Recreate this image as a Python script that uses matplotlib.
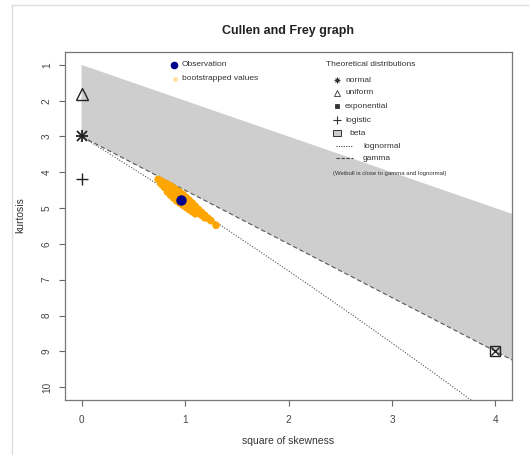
import numpy as np
import matplotlib
matplotlib.use("Agg")
import matplotlib.pyplot as plt
from matplotlib.lines import Line2D
from matplotlib.patches import Polygon, Rectangle

plt.rcParams["font.family"] = ["Liberation Sans", "DejaVu Sans"]

# observed sample statistics
obs_skew2 = 0.96
obs_kurt = 4.77

# bootstrapped (square of skewness, kurtosis) pairs
boot_skew2 = [0.74, 0.77, 0.77, 0.80, 0.80, 0.83, 0.83, 0.83, 0.86, 0.86, 0.86,
              0.89, 0.89, 0.89, 0.92, 0.92, 0.92, 0.95, 0.95, 0.95, 0.98, 0.98, 0.98,
              1.01, 1.01, 1.01, 1.04, 1.04, 1.04, 1.07, 1.07, 1.07, 1.10, 1.10, 1.10,
              1.13, 1.13, 1.16, 1.16, 1.19, 1.19, 1.22, 1.25, 1.30]
boot_kurt = [4.20, 4.24, 4.33, 4.30, 4.42, 4.33, 4.48, 4.55, 4.38, 4.52, 4.64,
             4.44, 4.58, 4.72, 4.50, 4.64, 4.80, 4.55, 4.70, 4.86, 4.62, 4.76, 4.92,
             4.70, 4.84, 4.98, 4.78, 4.90, 5.04, 4.86, 4.97, 5.10, 4.95, 5.05, 5.16,
             5.04, 5.14, 5.12, 5.20, 5.20, 5.27, 5.28, 5.35, 5.48]

# reference points of theoretical distributions
normal_pt = (0.0, 3.0)
uniform_pt = (0.0, 1.8)
exponential_pt = (4.0, 9.0)
logistic_pt = (0.0, 4.2)

x_ticks = [0, 1, 2, 3, 4]
y_ticks = [1, 2, 3, 4, 5, 6, 7, 8, 9, 10]
x_lim = (-0.16, 4.16)
y_lim = (10.36, 0.64)

W, H = 529, 455
fig = plt.figure(figsize=(W / 100, H / 100), dpi=100)


def fx(px):
    return px / W


def fy(py):
    return 1 - py / H


ax = fig.add_axes([fx(65), fy(400), fx(512) - fx(65), fy(52) - fy(400)])
ax.set_xlim(*x_lim)
ax.set_ylim(*y_lim)

# beta region: between the upper bound k = 1 + s2 and the gamma line k = 3 + 1.5 s2
xr = 5.0
beta_region = Polygon([(0, 1), (xr, 1 + xr), (xr, 3 + 1.5 * xr), (0, 3)],
                      closed=True, facecolor="#cecece", edgecolor="none", zorder=1)
ax.add_patch(beta_region)

# gamma line
gx = np.array([0.0, xr])
ax.plot(gx, 3 + 1.5 * gx, linestyle=(0, (4, 2.5)), color="#555555", lw=0.8, zorder=2)

# lognormal curve
w = np.linspace(1.0, 1.5, 400)
ln_s2 = (w + 2) ** 2 * (w - 1)
ln_k = w ** 4 + 2 * w ** 3 + 3 * w ** 2 - 3
ax.plot(ln_s2, ln_k, linestyle=(0, (1, 1.5)), color="#555555", lw=0.8, zorder=2)

# bootstrap cloud and observation
ax.scatter(boot_skew2, boot_kurt, s=30, color="#ffa500", edgecolors="none", zorder=3)
ax.plot([obs_skew2], [obs_kurt], "o", color="#00008b", ms=6.5, zorder=4)

# theoretical distribution markers
ax.plot(*normal_pt, marker="+", color="#222222", ms=9, mew=1.3, zorder=4)
ax.plot(*normal_pt, marker="x", color="#222222", ms=6.5, mew=1.3, zorder=4)
ax.plot(*uniform_pt, marker="^", color="#222222", mfc="none", ms=8, mew=1.0, zorder=4)
ax.plot(*exponential_pt, marker="s", color="#222222", mfc="none", ms=7, mew=1.0, zorder=4)
ax.plot(*exponential_pt, marker="x", color="#222222", ms=6, mew=1.0, zorder=4)
ax.plot(*logistic_pt, marker="+", color="#222222", ms=9, mew=1.0, zorder=4)

ax.set_xticks(x_ticks)
ax.set_yticks(y_ticks)
ax.set_xticklabels([str(t) for t in x_ticks])
ax.set_yticklabels([str(t) for t in y_ticks], rotation=90, va="center")
ax.tick_params(axis="both", direction="out", length=4.5, width=0.8, colors="#666666",
               labelcolor="#444444", labelsize=7.2)
ax.tick_params(axis="x", pad=6)
ax.tick_params(axis="y", pad=5)
for sp in ax.spines.values():
    sp.set_color("#777777")
    sp.set_linewidth(0.9)

fig.text(fx(288), fy(31), "Cullen and Frey graph", ha="center", va="center",
         fontsize=9, fontweight="bold", color="#222222")
fig.text(fx(288), fy(441), "square of skewness", ha="center", va="center",
         fontsize=7.5, color="#333333")
fig.text(fx(20), fy(215), "kurtosis", ha="center", va="center", rotation=90,
         fontsize=7.5, color="#333333")

# legend: observation / bootstrap
lg_fs = 6
tc = "#333333"
fig.add_artist(Line2D([fx(174)], [fy(65)], marker="o", color="#00008b", ms=4.5,
                      transform=fig.transFigure))
fig.text(fx(182), fy(65), "Observation", fontsize=lg_fs, va="center", color=tc)
fig.add_artist(Line2D([fx(175)], [fy(79)], marker="o", color="#ffe0a0", ms=2.5,
                      transform=fig.transFigure))
fig.text(fx(182), fy(79), "bootstrapped values", fontsize=lg_fs, va="center", color=tc)

# legend: theoretical distributions
mk = "#333333"
fig.text(fx(326), fy(65), "Theoretical distributions", fontsize=lg_fs, va="center", color=tc)
fig.add_artist(Line2D([fx(337)], [fy(80)], marker="+", color=mk, ms=4.5, mew=0.8,
                      transform=fig.transFigure))
fig.add_artist(Line2D([fx(337)], [fy(80)], marker="x", color=mk, ms=3.2, mew=0.8,
                      transform=fig.transFigure))
fig.text(fx(345), fy(80), "normal", fontsize=lg_fs, va="center", color=tc)
fig.add_artist(Line2D([fx(337)], [fy(93)], marker="^", color=mk, mfc="none", ms=4, mew=0.6,
                      transform=fig.transFigure))
fig.text(fx(345), fy(93), "uniform", fontsize=lg_fs, va="center", color=tc)
fig.add_artist(Line2D([fx(337)], [fy(106)], marker="s", color=mk, ms=3.5, mew=0.6,
                      transform=fig.transFigure))
fig.text(fx(345), fy(106), "exponential", fontsize=lg_fs, va="center", color=tc)
fig.add_artist(Line2D([fx(337)], [fy(120)], marker="+", color=mk, ms=5.5, mew=0.8,
                      transform=fig.transFigure))
fig.text(fx(345), fy(120), "logistic", fontsize=lg_fs, va="center", color=tc)
fig.add_artist(Rectangle((fx(333), fy(136)), fx(8), fy(0) - fy(6), transform=fig.transFigure,
                         facecolor="#cecece", edgecolor="#333333", lw=0.7))
fig.text(fx(349), fy(133), "beta", fontsize=lg_fs, va="center", color=tc)
fig.add_artist(Line2D([fx(336), fx(353)], [fy(146), fy(146)], color="#444444", lw=0.8,
                      linestyle=(0, (1, 1.2)), transform=fig.transFigure))
fig.text(fx(363), fy(146), "lognormal", fontsize=lg_fs, va="center", color=tc)
fig.add_artist(Line2D([fx(336), fx(353)], [fy(158), fy(158)], color="#444444", lw=0.8,
                      linestyle=(0, (3, 1.5)), transform=fig.transFigure))
fig.text(fx(363), fy(158), "gamma", fontsize=lg_fs, va="center", color=tc)
fig.text(fx(333), fy(173), "(Weibull is close to gamma and lognormal)", fontsize=4.3,
         va="center", color=tc)

# faint outer frame
fig.add_artist(Line2D([fx(12), fx(12)], [0, fy(5)], color="#dddddd", lw=1.0,
                      transform=fig.transFigure))
fig.add_artist(Line2D([fx(12), 1], [fy(5), fy(5)], color="#dddddd", lw=1.0,
                      transform=fig.transFigure))

fig.savefig("out.png", dpi=100)
